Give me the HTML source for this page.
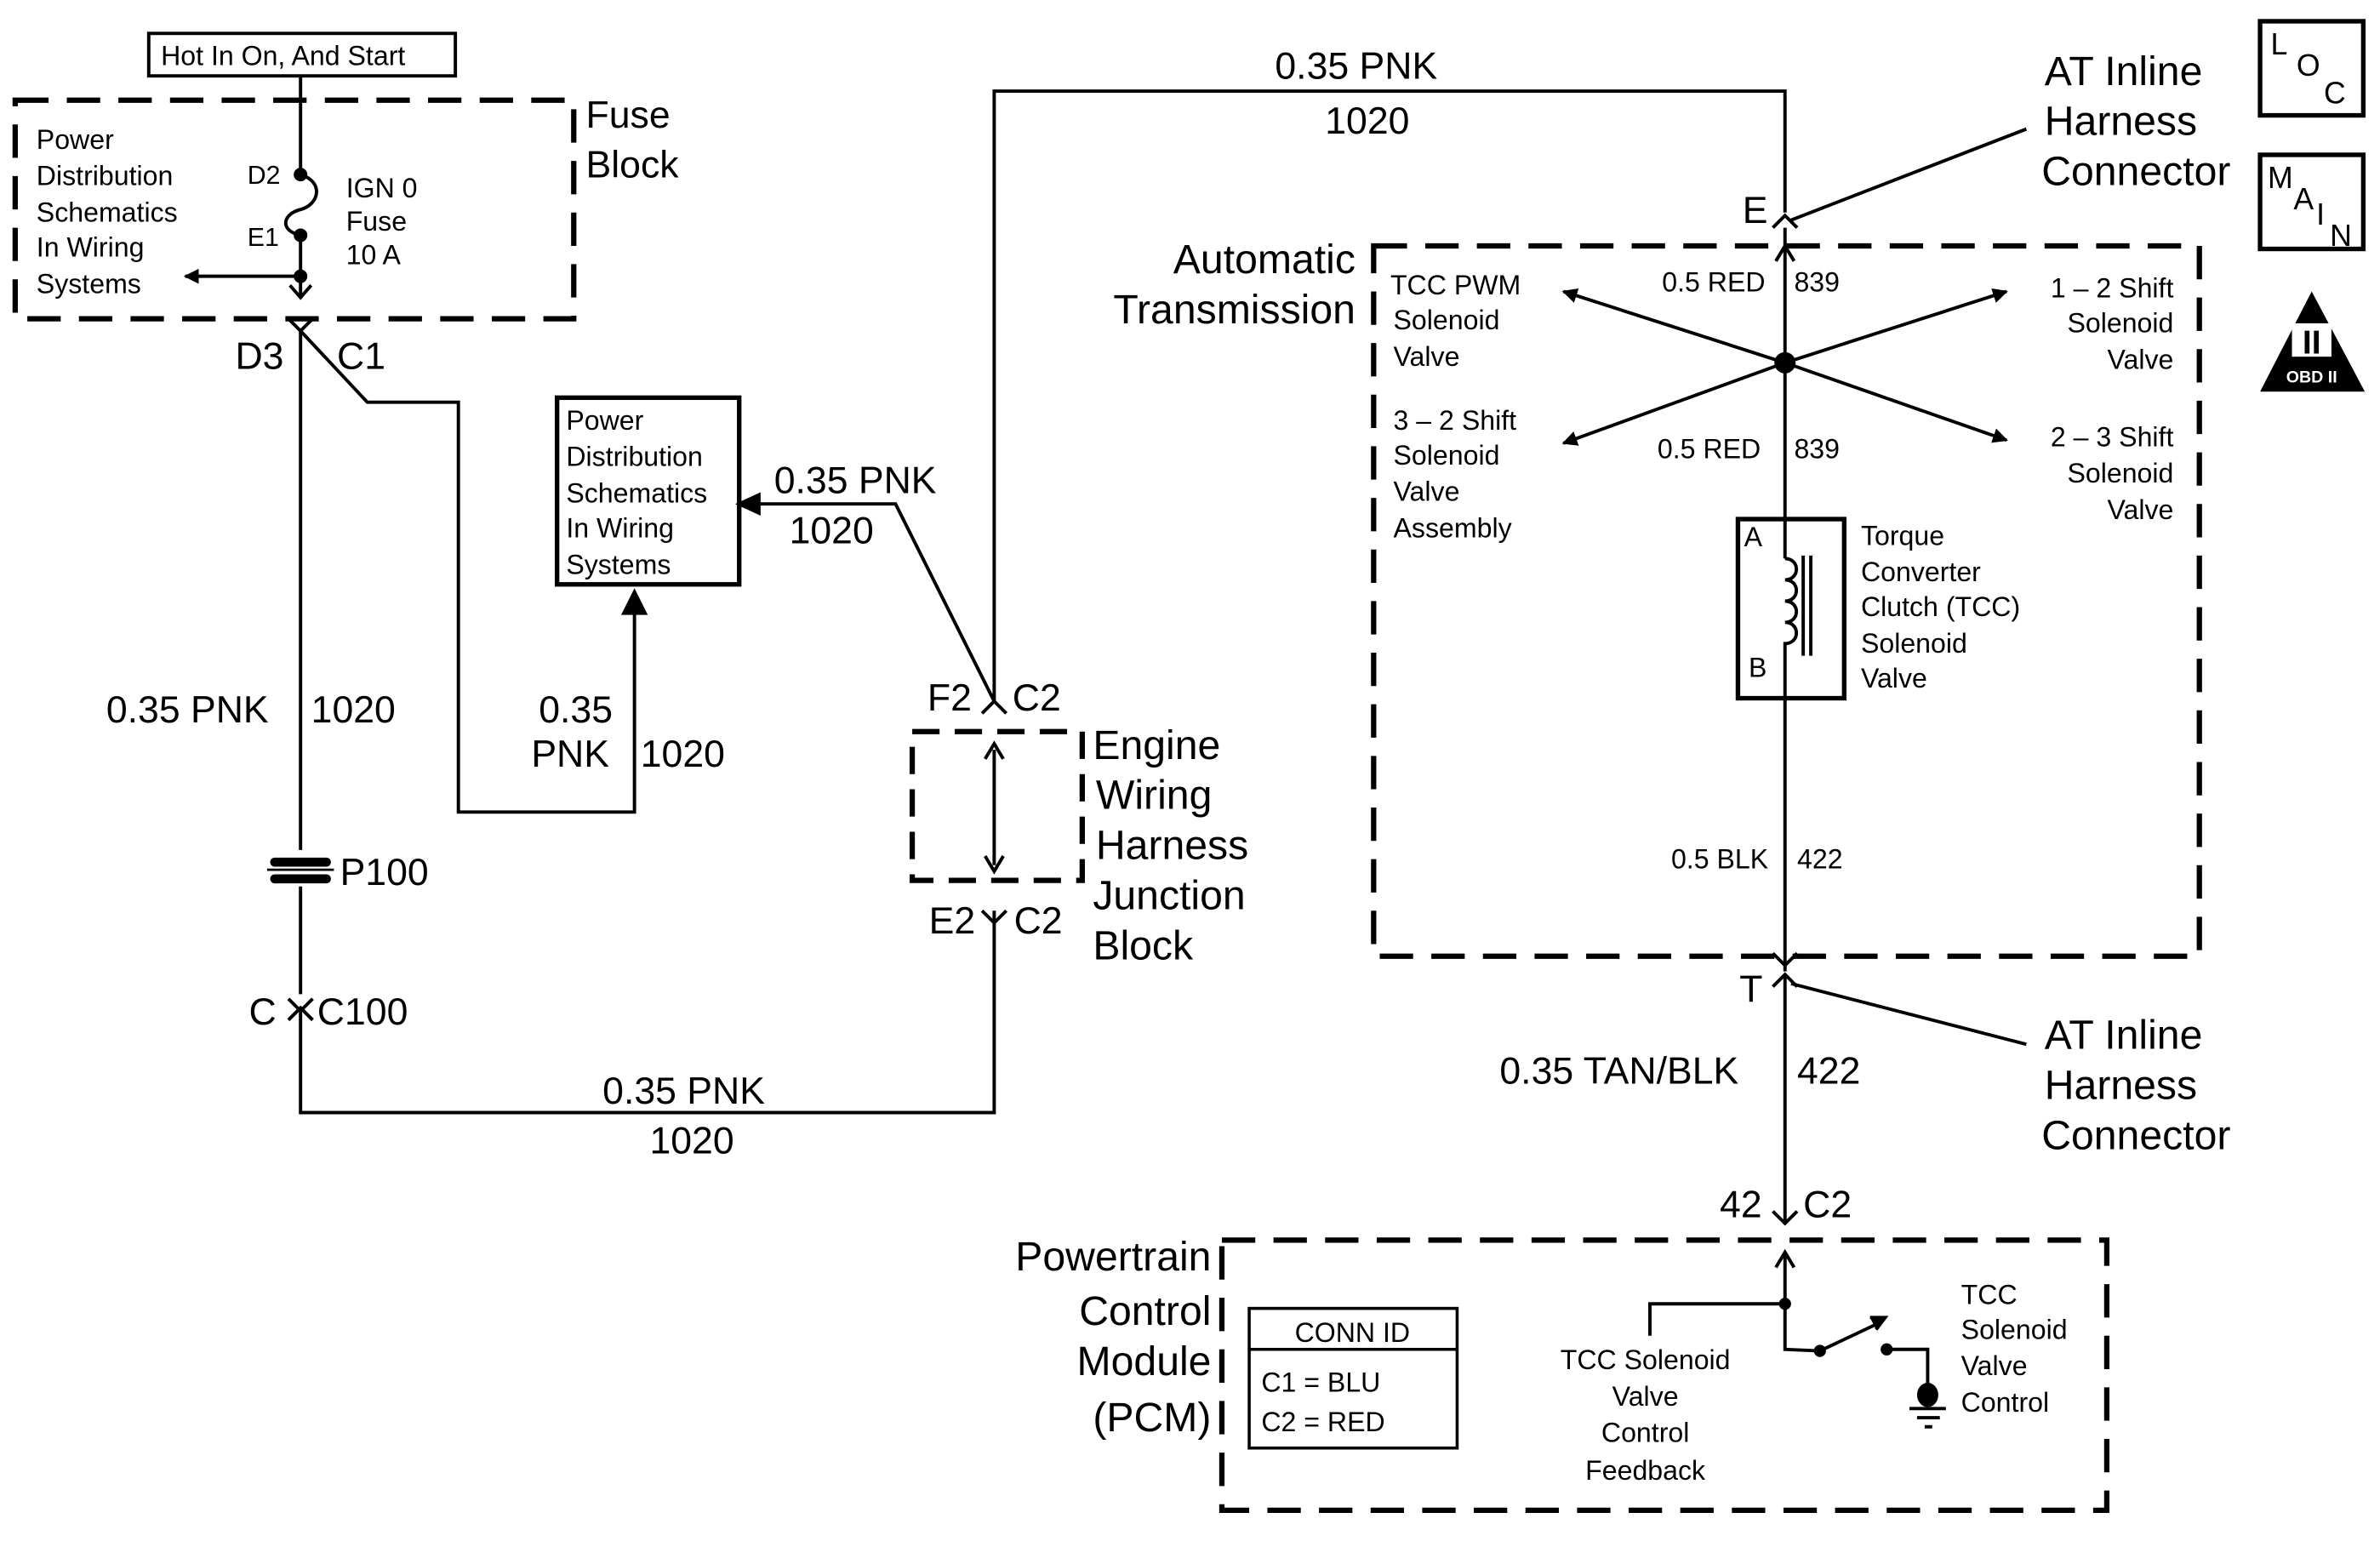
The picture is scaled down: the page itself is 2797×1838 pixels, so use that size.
<!DOCTYPE html>
<html><head><meta charset="utf-8"><style>
html,body{margin:0;padding:0;background:#fff}
svg{display:block}
text{font-family:"Liberation Sans",Arial,sans-serif;fill:#000}
</style></head><body>
<svg width="2797" height="1838" viewBox="0 0 1568 1030.4" preserveAspectRatio="none" xmlns="http://www.w3.org/2000/svg">
<defs>
<marker id="ah" markerWidth="10" markerHeight="10" refX="9" refY="5" orient="auto" markerUnits="userSpaceOnUse"><path d="M0,0 L10,5 L0,10 z"/></marker>
</defs>
<g fill="none" stroke="#000" stroke-width="2.2">
<!-- Hot box -->
<rect x="98" y="22" width="202" height="28"/>
<!-- fuse block dashed -->
<rect x="10" y="66" width="368" height="144" stroke-width="3.5" stroke-dasharray="22,12"/>
<line x1="198" y1="50" x2="198" y2="115"/>
<path d="M198,115 C214,120 210,135 198,138 C186,141 184,152 198,155"/>
<line x1="198" y1="155" x2="198" y2="195"/>
<path d="M191,188 L198,196 L205,188"/>
<line x1="198" y1="182" x2="122" y2="182" marker-end="url(#ah)"/>
<!-- D3 C1 connector -->
<path d="M190,210 L198,218 L206,210"/>
<line x1="198" y1="218" x2="198" y2="560"/>
<path d="M198,218 L242,265 L302,265 L302,535 L418,535 L418,395" />
<path d="M411,404 L418,390 L425,404 z" fill="#000"/>
<!-- PD box 2 -->
<rect x="367" y="262" width="120" height="123" stroke-width="3"/>
<!-- P100 -->
<line x1="198" y1="584" x2="198" y2="655"/>
<rect x="178" y="565" width="40" height="6" rx="3" fill="#000" stroke="none"/>
<rect x="178" y="576" width="40" height="6" rx="3" fill="#000" stroke="none"/>
<line x1="176" y1="573" x2="220" y2="573" stroke-width="1.5"/>
<!-- C100 -->
<path d="M190,658 L198,666 L206,658"/>
<path d="M190,672 L198,664 L206,672"/>
<path d="M198,664 L198,733 L655,733 L655,600"/>
<path d="M647,600 L655,608 L663,600" />
<!-- junction -->
<rect x="601" y="482" width="112" height="98" stroke-width="3.5" stroke-dasharray="18,10"/>
<line x1="655" y1="494" x2="655" y2="570"/>
<path d="M649,500 L655,490 L661,500 M649,564 L655,574 L661,564"/>
<path d="M647,470 L655,462 L663,470"/>
<path d="M655,462 L590,332 L498,332"/>
<path d="M500,326 L487,332 L500,338 z" fill="#000"/>
<path d="M655,462 L655,60 L1176,60 L1176,140"/>
<path d="M1168,150 L1176,142 L1184,150"/>
<line x1="1180" y1="145" x2="1335" y2="85"/>
<!-- AT box -->
<rect x="905" y="162" width="544" height="468" stroke-width="3.5" stroke-dasharray="22,12"/>
<line x1="1176" y1="150" x2="1176" y2="342"/>
<path d="M1170,172 L1176,162 L1182,172"/>
<line x1="1176" y1="239" x2="1030" y2="192" marker-end="url(#ah)"/>
<line x1="1176" y1="239" x2="1322" y2="192" marker-end="url(#ah)"/>
<line x1="1176" y1="239" x2="1030" y2="292" marker-end="url(#ah)"/>
<line x1="1176" y1="239" x2="1322" y2="290" marker-end="url(#ah)"/>
<rect x="1145" y="342" width="70" height="118" stroke-width="3"/>
<path d="M1176,342 L1176,368 M1176,368 c10,0 10,14 0,14 c10,0 10,14 0,14 c10,0 10,14 0,14 c10,0 10,14 0,14 L1176,460 M1176,460 L1176,640"/>
<line x1="1188" y1="366" x2="1188" y2="432"/>
<line x1="1193" y1="366" x2="1193" y2="432"/>
<path d="M1168,628 L1176,636 L1184,628"/>
<path d="M1168,650 L1176,642 L1184,650"/>
<line x1="1180" y1="648" x2="1335" y2="688"/>
<line x1="1176" y1="642" x2="1176" y2="805"/>
<path d="M1168,798 L1176,806 L1184,798"/>
<!-- PCM -->
<rect x="805" y="817" width="583" height="178" stroke-width="3.5" stroke-dasharray="22,12"/>
<path d="M1170,835 L1176,825 L1182,835"/>
<path d="M1176,825 L1176,887 L1176,889 L1176,889 L1176,889 L1176,889 M1176,859 L1087,859 L1087,880 M1176,859 L1176,889 L1199,890 L1235,873"/>
<path d="M1232,868 L1242,868 L1236,876" fill="#000"/>
<path d="M1243,889 L1270,889 L1270,913"/>
<line x1="1258" y1="928" x2="1282" y2="928"/>
<line x1="1263" y1="934" x2="1278" y2="934"/>
<line x1="1268" y1="940" x2="1273" y2="940"/>
<rect x="823" y="862" width="137" height="92" stroke-width="2"/>
<line x1="823" y1="889" x2="960" y2="889" stroke-width="2"/>
<!-- icons -->
<rect x="1489" y="14" width="68" height="62" stroke-width="3"/>
<rect x="1489" y="102" width="68" height="62" stroke-width="3"/>
</g>
<g fill="#000">
<circle cx="198" cy="115" r="4.5"/><circle cx="198" cy="155" r="4.5"/><circle cx="198" cy="182" r="4.5"/>
<circle cx="1176" cy="239" r="7"/>
<circle cx="1176" cy="859" r="4"/><circle cx="1199" cy="890" r="4"/><circle cx="1243" cy="889" r="4"/>
<ellipse cx="1270" cy="919" rx="7" ry="8"/>
<path d="M1523,192 L1558,258 L1489,258 z"/>
</g>
<rect x="1510" y="213" width="26" height="22" fill="#fff"/>
<text x="1523" y="233" font-size="22" font-weight="bold" text-anchor="middle">II</text>
<text x="1523" y="252" font-size="11" font-weight="bold" fill="#fff" text-anchor="middle" style="fill:#fff">OBD II</text>
<g font-size="18">
<text x="106" y="43">Hot In On, And Start</text>
<text x="24" y="98">Power</text><text x="24" y="122">Distribution</text><text x="24" y="146">Schematics</text><text x="24" y="169">In Wiring</text><text x="24" y="193">Systems</text>
<text x="163" y="121" font-size="17">D2</text><text x="163" y="162" font-size="17">E1</text>
<text x="228" y="130">IGN 0</text><text x="228" y="152">Fuse</text><text x="228" y="174">10 A</text>
<text x="373" y="283">Power</text><text x="373" y="307">Distribution</text><text x="373" y="331">Schematics</text><text x="373" y="354">In Wiring</text><text x="373" y="378">Systems</text>
<text x="916" y="194">TCC PWM</text><text x="918" y="217">Solenoid</text><text x="918" y="241">Valve</text>
<text x="918" y="283">3 – 2 Shift</text><text x="918" y="306">Solenoid</text><text x="918" y="330">Valve</text><text x="918" y="354">Assembly</text>
<text x="1095" y="192">0.5 RED</text><text x="1182" y="192">839</text>
<text x="1092" y="302">0.5 RED</text><text x="1182" y="302">839</text>
<text x="1432" y="196" text-anchor="end">1 – 2 Shift</text><text x="1432" y="219" text-anchor="end">Solenoid</text><text x="1432" y="243" text-anchor="end">Valve</text>
<text x="1432" y="294" text-anchor="end">2 – 3 Shift</text><text x="1432" y="318" text-anchor="end">Solenoid</text><text x="1432" y="342" text-anchor="end">Valve</text>
<text x="1149" y="360">A</text><text x="1152" y="446">B</text>
<text x="1226" y="359">Torque</text><text x="1226" y="383">Converter</text><text x="1226" y="406">Clutch (TCC)</text><text x="1226" y="430">Solenoid</text><text x="1226" y="453">Valve</text>
<text x="1101" y="572">0.5 BLK</text><text x="1184" y="572">422</text>
<text x="1084" y="902" text-anchor="middle">TCC Solenoid</text><text x="1084" y="926" text-anchor="middle">Valve</text><text x="1084" y="950" text-anchor="middle">Control</text><text x="1084" y="975" text-anchor="middle">Feedback</text>
<text x="1292" y="859">TCC</text><text x="1292" y="882">Solenoid</text><text x="1292" y="906">Valve</text><text x="1292" y="930">Control</text>
<text x="891" y="884" text-anchor="middle">CONN ID</text>
<text x="831" y="917">C1 = BLU</text><text x="831" y="943">C2 = RED</text>
</g>
<g font-size="25">
<text x="386" y="84">Fuse</text><text x="386" y="117">Block</text>
<text x="155" y="243">D3</text><text x="222" y="243">C1</text>
<text x="70" y="476">0.35 PNK</text><text x="205" y="476">1020</text>
<text x="355" y="476">0.35</text><text x="350" y="505">PNK</text><text x="422" y="505">1020</text>
<text x="224" y="583">P100</text>
<text x="164" y="675">C</text><text x="209" y="675">C100</text>
<text x="397" y="727">0.35 PNK</text><text x="428" y="760">1020</text>
<text x="510" y="325">0.35 PNK</text><text x="520" y="358">1020</text>
<text x="611" y="468">F2</text><text x="667" y="468">C2</text>
<text x="612" y="615">E2</text><text x="668" y="615">C2</text>
<text x="840" y="52">0.35 PNK</text><text x="873" y="88">1020</text>
<text x="1148" y="147">E</text>
<text x="1146" y="660">T</text>
<text x="988" y="714">0.35 TAN/BLK</text><text x="1184" y="714">422</text>
<text x="1133" y="802">42</text><text x="1188" y="802">C2</text>
</g>
<g font-size="27">
<text x="720" y="500">Engine</text><text x="722" y="533">Wiring</text><text x="722" y="566">Harness</text><text x="720" y="599">Junction</text><text x="720" y="632">Block</text>
<text x="1347" y="56">AT Inline</text><text x="1347" y="89">Harness</text><text x="1345" y="122">Connector</text>
<text x="893" y="180" text-anchor="end">Automatic</text><text x="893" y="213" text-anchor="end">Transmission</text>
<text x="1347" y="691">AT Inline</text><text x="1347" y="724">Harness</text><text x="1345" y="757">Connector</text>
<text x="798" y="837" text-anchor="end">Powertrain</text><text x="798" y="873" text-anchor="end">Control</text><text x="798" y="906" text-anchor="end">Module</text><text x="798" y="943" text-anchor="end">(PCM)</text>
</g>
<g font-size="20">
<text x="1496" y="36">L</text><text x="1513" y="50">O</text><text x="1531" y="68">C</text>
<text x="1494" y="124">M</text><text x="1511" y="138">A</text><text x="1526" y="148">I</text><text x="1535" y="162">N</text>
</g>
</svg>
</body></html>
